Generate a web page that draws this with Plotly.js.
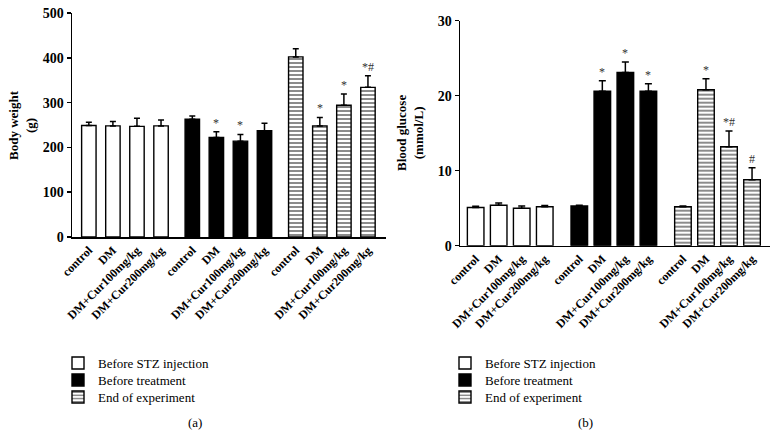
<!DOCTYPE html>
<html><head><meta charset="utf-8">
<script src="https://cdn.plot.ly/plotly-3.0.1.min.js"></script>
<style>html,body{margin:0;padding:0;background:#fff}#chart{width:780px;height:448px}</style>
</head><body><div id="chart"></div>
<script>
const groups = ['control', 'DM', 'DM+Cur100mg/kg', 'DM+Cur200mg/kg'];
const seriesNames = ['Before STZ injection', 'Before treatment', 'End of experiment'];

// (a) Body weight (g)
const bwBeforeSTZ = [249, 248, 247, 248];
const bwBeforeSTZErr = [7, 10, 18, 13];
const bwBeforeTreat = [263, 222, 214, 237];
const bwBeforeTreatErr = [7, 13, 15, 17];
const bwEnd = [402, 248, 294, 334];
const bwEndErr = [18, 19, 25, 26];
const bwBeforeSTZSig = ['', '', '', ''];
const bwBeforeTreatSig = ['', '*', '*', ''];
const bwEndSig = ['', '*', '*', '*#'];

// (b) Blood glucose (mmol/L)
const bgBeforeSTZ = [5.1, 5.4, 5.0, 5.2];
const bgBeforeSTZErr = [0.15, 0.3, 0.3, 0.15];
const bgBeforeTreat = [5.3, 20.6, 23.1, 20.6];
const bgBeforeTreatErr = [0.1, 1.4, 1.4, 1.0];
const bgEnd = [5.2, 20.8, 13.2, 8.8];
const bgEndErr = [0.1, 1.45, 2.1, 1.6];
const bgBeforeSTZSig = ['', '', '', ''];
const bgBeforeTreatSig = ['', '*', '*', '*'];
const bgEndSig = ['', '*', '*#', '#'];

const W = 780, H = 448;
const px = v => v / W, py = v => 1 - v / H;
const SERIF = 'Liberation Serif, Times New Roman, serif';

const styles = [
  {color: '#ffffff', line: {color: '#000', width: 1.4}},
  {color: '#000000', line: {color: '#000', width: 1.4}},
  {color: '#ffffff', line: {color: '#000', width: 1.4},
   pattern: {shape: '-', fgcolor: '#8c8c8c', bgcolor: '#ffffff', size: 4, solidity: 0.5}}
];

function positions(g, gap) { return groups.map((_, i) => g * (4 + gap) + i); }

const traces = [];
const annotations = [];

function addPanel(sets, gap, width, xa, ya, legendIds, errW) {
  const allX = [], allT = [];
  sets.forEach((s, g) => {
    const xs = positions(g, gap);
    allX.push(...xs); allT.push(...groups);
    traces.push({
      type: 'bar', x: xs, y: s.v, width: width, name: seriesNames[g],
      xaxis: xa, yaxis: ya, legend: legendIds[g], showlegend: true,
      marker: styles[g],
      error_y: {type: 'data', symmetric: false, array: s.e, arrayminus: s.e.map(() => 0),
                color: '#000', thickness: 1.5, width: errW},
      hoverinfo: 'skip'
    });
    s.sig.forEach((t, i) => {
      if (!t) return;
      annotations.push({xref: xa, yref: ya, x: xs[i], y: s.v[i] + s.e[i], text: t,
        showarrow: false, xanchor: 'center', yanchor: 'bottom', yshift: 0,
        font: {family: SERIF, size: 12, color: '#333333'}});
    });
  });
  return {allX, allT};
}

const left = addPanel([
  {v: bwBeforeSTZ, e: bwBeforeSTZErr, sig: bwBeforeSTZSig},
  {v: bwBeforeTreat, e: bwBeforeTreatErr, sig: bwBeforeTreatSig},
  {v: bwEnd, e: bwEndErr, sig: bwEndSig}
], 0.3, 0.6, 'x', 'y', ['legend', 'legend2', 'legend3'], 3);

const right = addPanel([
  {v: bgBeforeSTZ, e: bgBeforeSTZErr, sig: bgBeforeSTZSig},
  {v: bgBeforeTreat, e: bgBeforeTreatErr, sig: bgBeforeTreatSig},
  {v: bgEnd, e: bgEndErr, sig: bgEndSig}
], 0.5, 0.72, 'x2', 'y2', ['legend4', 'legend5', 'legend6'], 3.5);

const tickFont = {family: SERIF, size: 12, weight: 'bold', color: '#000'};
const yTickFont = {family: SERIF, size: 14, weight: 'bold', color: '#000'};

function xaxis(dom, rng, anchor, p) {
  return {domain: dom, range: rng, anchor: anchor, showgrid: false, zeroline: false,
    showline: true, linecolor: '#000', linewidth: 1.5, ticks: '',
    tickvals: p.allX, ticktext: p.allT, tickangle: -45, tickfont: tickFont, fixedrange: true};
}
function yaxis(dom, rng, dtick, anchor) {
  return {domain: dom, range: rng, dtick: dtick, anchor: anchor, showgrid: false, zeroline: false,
    showline: true, linecolor: '#000', linewidth: 1.5, ticks: 'outside', ticklen: 4,
    tickwidth: 1.5, tickcolor: '#000', tickfont: yTickFont, fixedrange: true};
}

annotations.push(
  {xref: 'paper', yref: 'paper', x: px(22), y: py(125), xanchor: 'center', yanchor: 'middle',
   text: '<b>Body weight</b><br><b>(g)</b>',
   textangle: -90, showarrow: false, font: {family: SERIF, size: 13, color: '#000'}},
  {xref: 'paper', yref: 'paper', x: px(410), y: py(133), xanchor: 'center', yanchor: 'middle',
   text: '<b>Blood glucose</b><br><b>(mmol/L)</b>',
   textangle: -90, showarrow: false, font: {family: SERIF, size: 13, color: '#000'}},
  {xref: 'paper', yref: 'paper', x: px(195), y: py(422), xanchor: 'center', yanchor: 'middle',
   text: '(a)', showarrow: false, font: {family: SERIF, size: 13, color: '#000'}},
  {xref: 'paper', yref: 'paper', x: px(585), y: py(422), xanchor: 'center', yanchor: 'middle',
   text: '(b)', showarrow: false, font: {family: SERIF, size: 13, color: '#000'}}
);

function legendAt(x, yc) {
  return {x: px(x), y: py(yc), xanchor: 'left', yanchor: 'middle', bgcolor: 'rgba(0,0,0,0)',
    font: {family: SERIF, size: 13, color: '#000'}};
}
const rowY = [363, 380, 397];

const layout = {
  width: W, height: H, margin: {l: 0, r: 0, t: 0, b: 0},
  paper_bgcolor: '#fff', plot_bgcolor: '#fff', barmode: 'overlay', showlegend: true,
  xaxis: xaxis([px(72), px(386)], [-0.7, 12.35], 'y', left),
  yaxis: yaxis([py(237), py(13)], [0, 500], 100, 'x'),
  xaxis2: xaxis([px(460), px(770)], [-0.68, 12.78], 'y2', right),
  yaxis2: yaxis([py(245.7), py(20.7)], [0, 30], 10, 'x2'),
  legend: legendAt(58, rowY[0]),
  legend2: legendAt(58, rowY[1]),
  legend3: legendAt(58, rowY[2]),
  legend4: legendAt(445, rowY[0]),
  legend5: legendAt(445, rowY[1]),
  legend6: legendAt(445, rowY[2]),
  annotations: annotations
};

Plotly.newPlot('chart', traces, layout, {staticPlot: true, displayModeBar: false});
</script></body></html>
